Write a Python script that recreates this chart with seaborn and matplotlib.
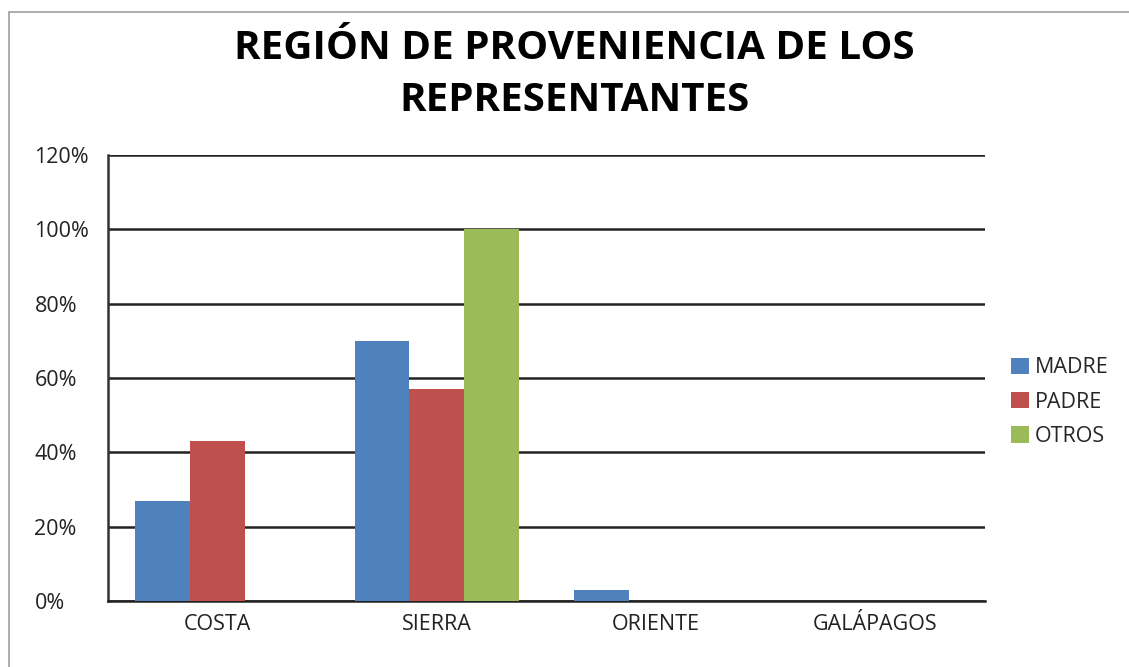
import pandas as pd
import matplotlib.pyplot as plt
import seaborn as sns
from matplotlib.patches import Rectangle
from matplotlib.ticker import FuncFormatter

# datos
regiones = ['COSTA', 'SIERRA', 'ORIENTE', 'GALÁPAGOS']
madre = [0.27, 0.70, 0.03, 0.0]
padre = [0.43, 0.57, 0.0, 0.0]
otros = [0.0, 1.00, 0.0, 0.0]
series = ['MADRE', 'PADRE', 'OTROS']
colores = ['#4F81BD', '#C0504D', '#9BBB59']

df = pd.DataFrame({'region': regiones * 3,
                   'grupo': [s for s in series for _ in regiones],
                   'valor': madre + padre + otros})

sns.set_style('white')
plt.rcParams['font.family'] = ['Open Sans', 'DejaVu Sans']

fig = plt.figure(figsize=(11.29, 6.67), dpi=100)
ax = fig.add_axes([108 / 1129, 66 / 667, 877 / 1129, 446 / 667])

sns.barplot(data=df, x='region', y='valor', hue='grupo', palette=colores,
            width=0.75, saturation=1, linewidth=0, ax=ax, zorder=3)

ax.set_ylim(0, 1.2)
ax.set_yticks([0, 0.2, 0.4, 0.6, 0.8, 1.0, 1.2])
ax.yaxis.set_major_formatter(FuncFormatter(lambda v, p: f'{v * 100:.0f}%'))
ax.grid(axis='y', color='#222222', linewidth=1.8, zorder=0)
ax.set_axisbelow(True)
for s in ['top', 'right']:
    ax.spines[s].set_visible(False)
ax.spines['left'].set_color('#333333')
ax.spines['left'].set_linewidth(1.8)
ax.spines['bottom'].set_color('#222222')
ax.spines['bottom'].set_linewidth(1.8)
ax.tick_params(axis='y', labelsize=15.5, length=0, pad=53, colors='#222222')
ax.tick_params(axis='x', labelsize=15.5, length=0, pad=9, colors='#222222')
for t in ax.get_yticklabels():
    t.set_horizontalalignment('left')
ax.set_xlabel('')
ax.set_ylabel('')

ax.legend(loc='center left', bbox_to_anchor=(1.03, 0.446), frameon=False,
          fontsize=15.5, handlelength=0.8, handleheight=0.8, handletextpad=0.3,
          labelspacing=0.62, borderaxespad=0, borderpad=0)

fig.text(0.509, 0.957, 'REGIÓN DE PROVENIENCIA DE LOS\nREPRESENTANTES',
         ha='center', va='top', fontsize=29, fontweight='bold',
         linespacing=1.45, color='black')

# borde del área del gráfico
fig.patches.append(Rectangle((9 / 1129, -0.1), 1.2, (667 - 12) / 667 + 0.1,
                             transform=fig.transFigure, fill=False,
                             edgecolor='#a0a0a0', linewidth=1.2))

fig.savefig('out.png', dpi=100)
